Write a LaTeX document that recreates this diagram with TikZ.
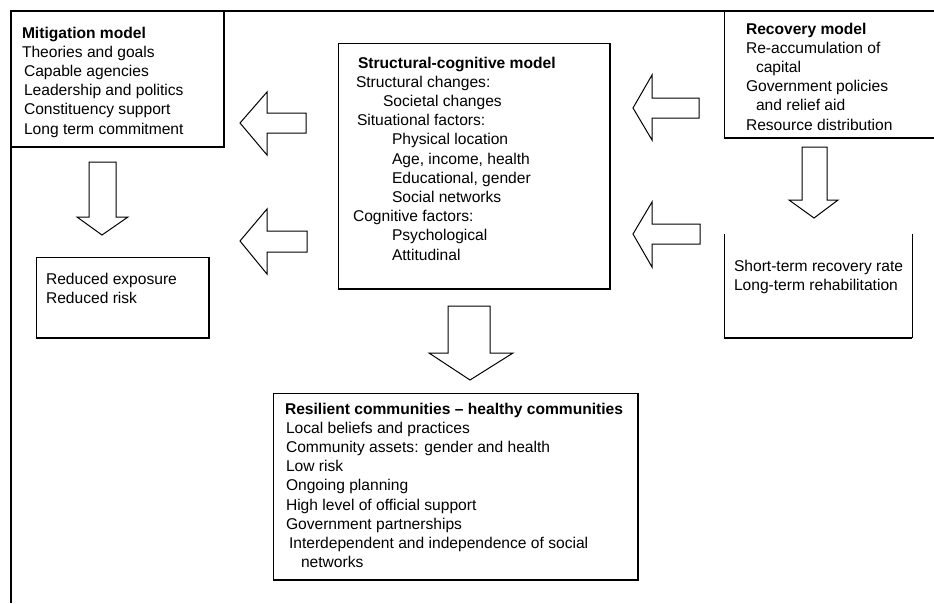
\documentclass[tikz,border=0pt]{standalone}
\usepackage{fontspec}
\setmainfont{Liberation Sans}
\newcommand{\fl}{\rule{0pt}{12pt}}
\newcommand{\ind}[1]{\hspace*{#1pt}}
\begin{document}
\begin{tikzpicture}[x=1pt,y=-1pt,
  frame/.style={line width=2pt, line join=miter},
  box/.style={draw, line width=1pt, inner sep=0pt, outer sep=0pt, anchor=north west},
  openbox/.style={inner sep=0pt, outer sep=0pt, anchor=north west},
  edge2/.style={line width=2pt, line join=miter},
  edge1/.style={line width=1pt},
  barrow/.style={draw, line width=1pt, fill=white, line join=miter},
  txt/.style={anchor=north west, inner sep=0pt, outer sep=0pt, align=left,
              font=\fontsize{15.6}{19.2}\selectfont}]
\useasboundingbox (0,0) rectangle (934,603);

% outer frame (top and left only)
\coordinate (ftl) at (11,11);
\coordinate (ftr) at (934,11);
\coordinate (fbl) at (11,603);
\draw[frame] (ftr) -- (ftl) -- (fbl);

% boxes
\node[box, minimum width=213pt, minimum height=136pt] (mit) at (11,11) {};
\draw[edge2] (mit.north east) -- (mit.south east) -- (mit.south west);

\node[box, minimum width=272pt, minimum height=246pt] (sc) at (338,43) {};
\draw[edge2] (sc.north east) -- (sc.south east) -- (sc.south west);

\node[openbox, minimum width=210pt, minimum height=127pt] (rec) at (724,11) {};
\draw[edge1] (rec.north west) -- (rec.south west);
\draw[edge2] (rec.south west) -- (rec.south east);

\node[openbox, minimum width=188pt, minimum height=104pt] (st) at (724,234) {};
\draw[edge1] (st.north west) -- (st.south west) (st.north east) -- (st.south east);
\draw[edge2] (st.south west) -- (st.south east);

\node[box, minimum width=173pt, minimum height=81pt] (red) at (36,257) {};
\draw[edge2] (red.north east) -- (red.south east) -- (red.south west);

\node[box, minimum width=365pt, minimum height=187pt] (res) at (273,393) {};
\draw[edge2] (res.north east) -- (res.south east) -- (res.south west);

% block arrows pointing left (between structural and mitigation side)
\draw[barrow] (306,113) -- (267,113) -- (267,92) -- (240,123) -- (267,155) -- (267,133) -- (306,133) -- cycle;
\draw[barrow] (307,231) -- (267,231) -- (267,209) -- (240,241) -- (267,274) -- (267,252) -- (307,252) -- cycle;
% block arrows pointing left (between recovery side and structural)
\draw[barrow] (699,98) -- (652,98) -- (652,75) -- (633,108) -- (652,140) -- (652,118) -- (699,118) -- cycle;
\draw[barrow] (700,224) -- (652,224) -- (652,202) -- (633,234) -- (652,267) -- (652,244) -- (700,244) -- cycle;
% block arrows pointing down
\draw[barrow] (89,162) -- (116,162) -- (116,217) -- (128,217) -- (102,235) -- (77,217) -- (89,217) -- cycle;
\draw[barrow] (802,147) -- (827,147) -- (827,200) -- (838,200) -- (814,218) -- (789,200) -- (802,200) -- cycle;
\draw[barrow] (448,306) -- (490,306) -- (490,353) -- (513,353) -- (470,380) -- (429,353) -- (448,353) -- cycle;

% texts
\node[txt] (mittxt) at (22,26) {\fl\textbf{Mitigation model}\\
Theories and goals\\
\ind{2}Capable agencies\\
\ind{2}Leadership and politics\\
\ind{2}Constituency support\\
\ind{2}Long term commitment};

\node[txt] (sctxt) at (353,56) {\fl\ind{5}\textbf{Structural-cognitive model}\\
\ind{3}Structural changes:\\
\ind{30}Societal changes\\
\ind{4}Situational factors:\\
\ind{39}Physical location\\
\ind{39}Age, income, health\\
\ind{39}Educational, gender\\
\ind{39}Social networks\\
Cognitive factors:\\
\ind{39}Psychological\\
\ind{39}Attitudinal};

\node[txt] (rectxt) at (746,22) {\fl\textbf{Recovery model}\\
Re-accumulation of\\
\ind{10}capital\\
Government policies\\
\ind{10}and relief aid\\
Resource distribution};

\node[txt] (redtxt) at (46,272) {\fl Reduced exposure\\
Reduced risk};

\node[txt] (sttxt) at (734,259) {\fl Short-term recovery rate\\
Long-term rehabilitation};

\node[txt] (restxt) at (285,402) {\fl\textbf{Resilient communities – healthy communities}\\
\ind{1}Local beliefs and practices\\
\ind{1}Community assets: gender and health\\
\ind{1}Low risk\\
\ind{1}Ongoing planning\\
\ind{1}High level of official support\\
\ind{1}Government partnerships\\
\ind{4}Interdependent and independence of social\\
\ind{16}networks};
\end{tikzpicture}
\end{document}
